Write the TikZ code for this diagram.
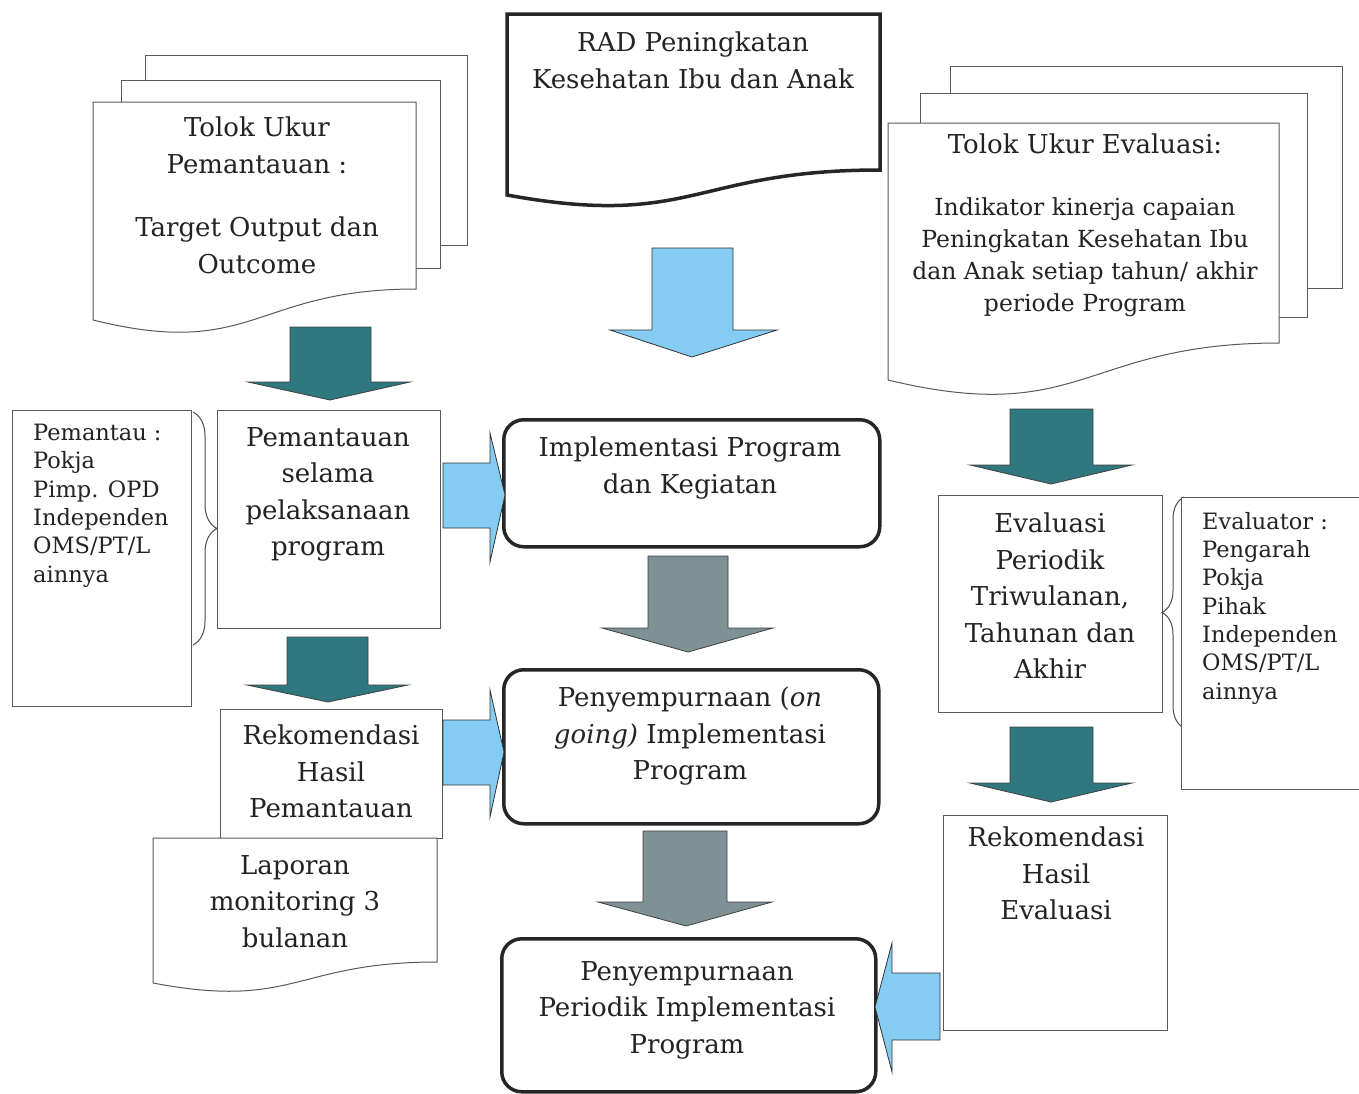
\documentclass[tikz,border=0pt]{standalone}
\usepackage{fontspec}
\setmainfont{DejaVu Serif}
\usetikzlibrary{decorations.pathreplacing}
\definecolor{lblue}{RGB}{132,204,242}
\definecolor{teal2}{RGB}{47,120,127}
\definecolor{grayblue}{RGB}{125,145,150}
\definecolor{ink}{RGB}{35,35,35}
\begin{document}
\begin{tikzpicture}[x=1pt,y=-1pt,
  thinbox/.style={draw=black!65, line width=1pt, fill=white, inner sep=0pt, anchor=north west},
  thickbox/.style={draw=black!85, line width=3.5pt, rounded corners=20pt, fill=white, inner sep=0pt, anchor=north west},
  docline/.style={draw=black!65, line width=1pt, fill=white},
  txt/.style={align=center, font=\fontsize{26}{36.5}\selectfont, text=ink, anchor=north, inner sep=0pt},
  smalltxt/.style={align=center, font=\fontsize{23.5}{32}\selectfont, text=ink, anchor=north, inner sep=0pt},
  listtxt/.style={align=left, font=\fontsize{22.5}{28.3}\selectfont, text=ink, anchor=north west, inner sep=0pt},
  bluearr/.style={fill=lblue, draw=black!80, line width=0.8pt, line join=miter},
  tealarr/.style={fill=teal2, draw=black!75, line width=0.8pt},
  grayarr/.style={fill=grayblue, draw=black!75, line width=0.8pt},
  bracestyle/.style={draw=black!70, line width=1pt, decorate}
]
\useasboundingbox[fill=white] (0,0) rectangle (1359,1093);

% ---------- left document stack ----------
\node[thinbox, minimum width=322, minimum height=190] (lback) at (145,55) {};
\node[thinbox, minimum width=319, minimum height=188] (lmid) at (121,80) {};
\path[docline] (93,102) -- (416,102) -- (416,289) .. controls (254,289) and (254,360) .. (93,320) -- cycle;
\coordinate (ldoc) at (254,102);
\node[txt] (ldocT) at (257,117) {Tolok Ukur\\Pemantauan :\\[27pt]Target Output dan\\Outcome};

% ---------- RAD document ----------
\path[draw=black!85, line width=3.5pt, fill=white] (507,14) -- (880,14) -- (880,170) .. controls (693,170) and (693,229) .. (507,195) -- cycle;
\node[txt] (radT) at (693,32) {RAD Peningkatan\\Kesehatan Ibu dan Anak};

% ---------- right document stack ----------
\node[thinbox, minimum width=392, minimum height=222] (rback) at (950,66) {};
\node[thinbox, minimum width=387, minimum height=224] (rmid) at (920,93) {};
\path[docline] (888,123) -- (1279,123) -- (1279,343) .. controls (1083,343) and (1083,427) .. (888,380) -- cycle;
\node[smalltxt] (rdocT) at (1085,134) {\fontsize{26}{32}\selectfont Tolok Ukur Evaluasi:\\[30pt]Indikator kinerja capaian\\Peningkatan Kesehatan Ibu\\dan Anak setiap tahun/ akhir\\periode Program};

% ---------- left column ----------
\node[thinbox, minimum width=179, minimum height=296] (pemantau) at (12,410) {};
\node[listtxt] (pemantauT) at (33,424) {Pemantau :\\Pokja\\Pimp. OPD\\Independen\\OMS/PT/L\\ainnya};
\draw[bracestyle, decoration={brace, amplitude=24pt}] (193,412) -- (193,645);

\node[thinbox, minimum width=223, minimum height=218] (pem) at (217,410) {};
\node[txt] (pemT) at (328,427) {Pemantauan\\selama\\pelaksanaan\\program};

\node[thinbox, minimum width=222, minimum height=129] (rekp) at (220,709) {};
\node[txt] (rekpT) at (331,725) {Rekomendasi\\Hasil\\Pemantauan};

\path[docline] (153,838) -- (437,838) -- (437,962) .. controls (295,962) and (295,1010) .. (153,983) -- cycle;
\node[txt] (lapT) at (295,855) {Laporan\\monitoring 3\\bulanan};

% ---------- centre column ----------
\node[thickbox, minimum width=376, minimum height=127] (impl) at (502,418) {};
\node[txt] (implT) at (690,437) {Implementasi Program\\dan Kegiatan};

\node[thickbox, minimum width=375, minimum height=154] (peny) at (502,668) {};
\node[txt] (penyT) at (690,687) {Penyempurnaan (\textit{on}\\\textit{going)} Implementasi\\Program};

\node[thickbox, minimum width=374, minimum height=153] (penyp) at (500,937) {};
\node[txt] (penypT) at (687,961) {Penyempurnaan\\Periodik Implementasi\\Program};

% ---------- right column ----------
\node[thinbox, minimum width=224, minimum height=217] (eval) at (938,495) {};
\node[txt] (evalT) at (1050,513) {Evaluasi\\Periodik\\Triwulanan,\\Tahunan dan\\Akhir};
\draw[bracestyle, decoration={brace, amplitude=22pt}] (1184,728) -- (1184,497);

\node[thinbox, minimum width=180, minimum height=292] (evaluator) at (1181,497) {};
\node[listtxt] (evaluatorT) at (1202,512) {Evaluator :\\Pengarah\\Pokja\\Pihak\\Independen\\OMS/PT/L\\ainnya};

\node[thinbox, minimum width=224, minimum height=215] (reke) at (943,815) {};
\node[txt] (rekeT) at (1056,827) {Rekomendasi\\Hasil\\Evaluasi};

% ---------- block arrows ----------
% light blue down arrow under RAD
\draw[bluearr] (652,248) -- (733,248) -- (733,330) -- (777,330) -- (692,357) -- (610,330) -- (652,330) -- cycle;
% teal arrows
\draw[tealarr] (290,327) -- (371,327) -- (371,382) -- (410,382) -- (330,400) -- (248,382) -- (290,382) -- cycle;
\draw[tealarr] (1010,409) -- (1093,409) -- (1093,465) -- (1132,465) -- (1051,484) -- (970,465) -- (1010,465) -- cycle;
\draw[tealarr] (287,637) -- (368,637) -- (368,685) -- (408,685) -- (328,702) -- (247,685) -- (287,685) -- cycle;
\draw[tealarr] (1010,727) -- (1093,727) -- (1093,783) -- (1132,783) -- (1051,802) -- (970,783) -- (1010,783) -- cycle;
% gray arrows
\draw[grayarr] (648,556) -- (728,556) -- (728,628) -- (773,628) -- (688,652) -- (602,628) -- (648,628) -- cycle;
\draw[grayarr] (643,831) -- (727,831) -- (727,902) -- (772,902) -- (686,926) -- (598,902) -- (643,902) -- cycle;
% light blue right arrows
\draw[bluearr] (443,463) -- (490,463) -- (490,433) -- (505,495) -- (490,562) -- (490,528) -- (443,528) -- cycle;
\draw[bluearr] (443,720) -- (490,720) -- (490,690) -- (504,752) -- (490,817) -- (490,785) -- (443,785) -- cycle;
% light blue left arrow
\draw[bluearr] (940,973) -- (892,973) -- (892,943) -- (875,1007) -- (892,1072) -- (892,1040) -- (940,1040) -- cycle;
\end{tikzpicture}
\end{document}
